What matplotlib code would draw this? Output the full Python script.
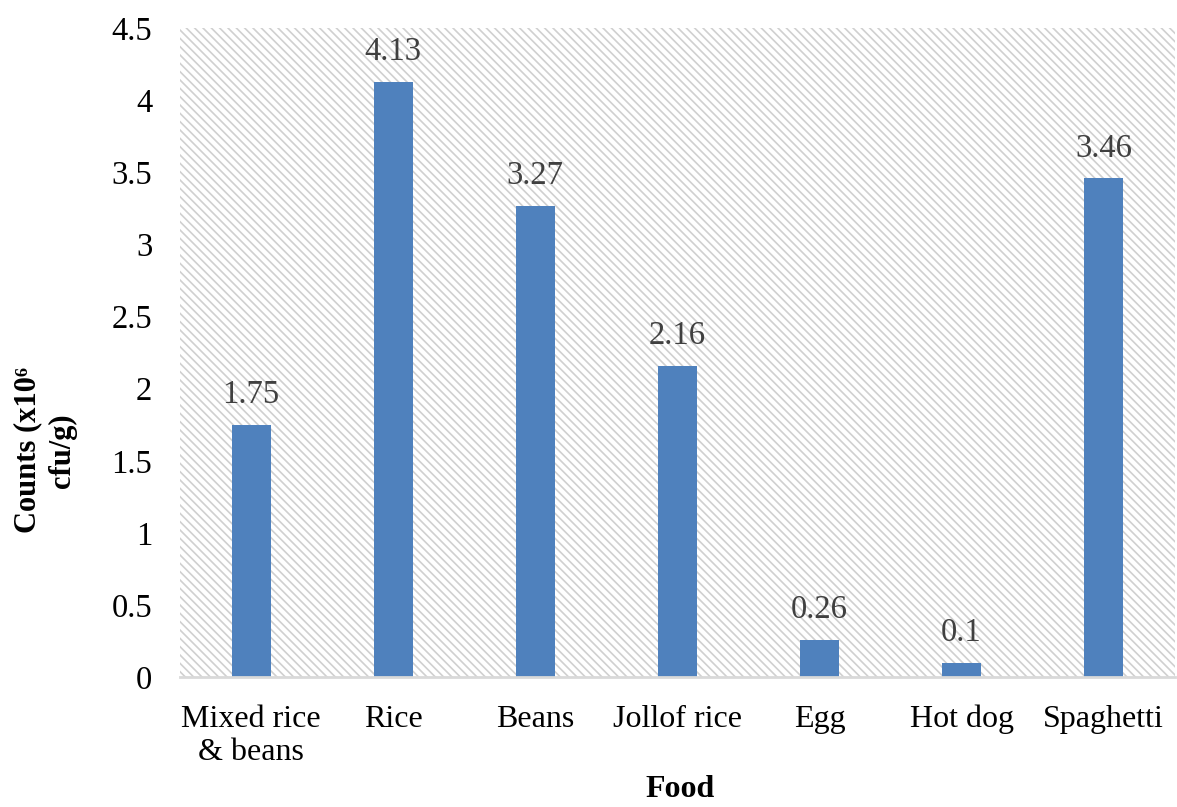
import matplotlib
matplotlib.use("Agg")
import matplotlib.pyplot as plt
from matplotlib.patches import Rectangle

foods = ["Mixed rice\n& beans", "Rice", "Beans", "Jollof rice", "Egg", "Hot dog", "Spaghetti"]
counts = [1.75, 4.13, 3.27, 2.16, 0.26, 0.1, 3.46]
labels = ["1.75", "4.13", "3.27", "2.16", "0.26", "0.1", "3.46"]
yticks = [0, 0.5, 1, 1.5, 2, 2.5, 3, 3.5, 4, 4.5]
ytick_labels = ["0", "0.5", "1", "1.5", "2", "2.5", "3", "3.5", "4", "4.5"]

plt.rcParams['font.family'] = ['Liberation Serif', 'DejaVu Serif']
plt.rcParams['hatch.color'] = '#d0d0d0'
plt.rcParams['hatch.linewidth'] = 1.2

fig = plt.figure(figsize=(11.77, 8.07), dpi=100)
ax = fig.add_axes([0.153, 0.161, 0.845, 0.804])

ax.add_patch(Rectangle((0, 0), 1, 1, transform=ax.transAxes, facecolor='white',
                       edgecolor='#d0d0d0', hatch='\\\\\\\\', linewidth=0, zorder=0))

x = range(len(foods))
bars = ax.bar(x, counts, width=0.275, color='#4f81bd', zorder=2)
for xi, v, lab in zip(x, counts, labels):
    ax.text(xi, v + 0.1, lab, ha='center', va='bottom', fontsize=23.5, color='#404040')

ax.set_xlim(-0.5, len(foods) - 0.5)
ax.set_ylim(0, 4.5)
ax.set_yticks(yticks)
ax.set_yticklabels(ytick_labels, fontsize=23.5)
ax.set_xticks(list(x))
ax.set_xticklabels(foods, fontsize=23)
ax.tick_params(axis='both', length=0)
ax.tick_params(axis='x', pad=20)
ax.tick_params(axis='y', pad=20)

for s in ['top', 'right', 'left']:
    ax.spines[s].set_visible(False)
ax.spines['bottom'].set_color('#d9d9d9')
ax.spines['bottom'].set_linewidth(2)
ax.spines['bottom'].set_zorder(3)

fig.text(0.578, 3 / 807, "Food", ha='center', va='bottom', fontsize=23, fontweight='bold')
fig.text(0.038, 0.442, "Counts (x10\u2076\ncfu/g)", rotation=90, ha='center', va='center',
         fontsize=22, fontweight='bold', multialignment='center', linespacing=1.25)

fig.savefig("out.png", dpi=100)
